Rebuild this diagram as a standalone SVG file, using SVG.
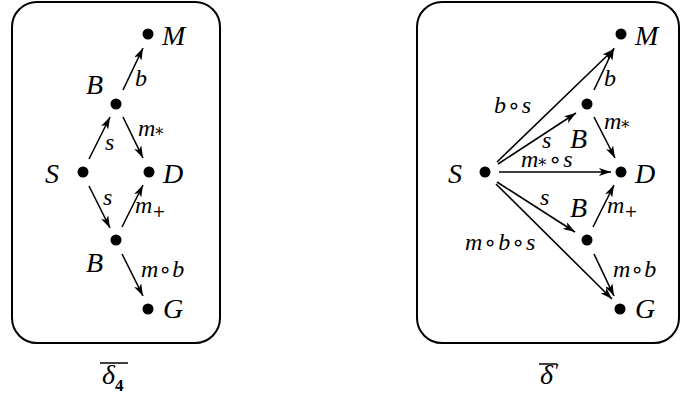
<svg xmlns="http://www.w3.org/2000/svg" width="681" height="398" viewBox="0 0 681 398">
<style>
.box{fill:none;stroke:#000;stroke-width:2}
.e{stroke:#000;stroke-width:1.6;fill:none;marker-end:url(#ah)}
.n{font-family:"Liberation Serif",serif;font-style:italic;font-size:28px;fill:#000}
.l{font-family:"Liberation Serif",serif;font-style:italic;font-size:24px;fill:#000}
.sub{font-size:16px;font-style:normal;font-family:"DejaVu Serif",serif}
.o{font-family:"DejaVu Sans",sans-serif;font-style:normal;font-size:22px}
.cap{font-family:"Liberation Serif",serif;font-style:italic;font-size:28px;fill:#000}
</style>
<defs>
<marker id="ah" markerUnits="userSpaceOnUse" markerWidth="13" markerHeight="8" refX="12" refY="4" orient="auto">
<path d="M0,0 L12,4 L0,8 L3,4 z" fill="#000"/>
</marker>
</defs>
<rect class="box" x="12" y="2" width="208" height="341" rx="25"/>
<rect class="box" x="417" y="2" width="262" height="341" rx="25"/>
<g id="connectors">
<line class="e" x1="123" y1="90" x2="143" y2="48"/>
<line class="e" x1="89" y1="159" x2="110" y2="117"/>
<line class="e" x1="123" y1="117" x2="143" y2="158"/>
<line class="e" x1="89" y1="186" x2="110" y2="228"/>
<line class="e" x1="122" y1="227" x2="143" y2="185"/>
<line class="e" x1="122" y1="254" x2="143" y2="296"/>
<line class="e" x1="497" y1="162" x2="614" y2="49"/>
<line class="e" x1="498" y1="164" x2="576" y2="113"/>
<line class="e" x1="594" y1="90" x2="614" y2="48"/>
<line class="e" x1="594" y1="117" x2="615" y2="158"/>
<line class="e" x1="499" y1="172" x2="611" y2="172"/>
<line class="e" x1="497" y1="182" x2="575" y2="232"/>
<line class="e" x1="496" y1="184" x2="612" y2="299"/>
<line class="e" x1="593" y1="227" x2="614" y2="185"/>
<line class="e" x1="594" y1="254" x2="614" y2="296"/>
</g>
<g id="l-M"><circle cx="148" cy="34" r="5.5"/><text class="n" x="162" y="45">M</text></g>
<g id="l-Btop"><circle cx="116" cy="104" r="5.5"/><text class="n" x="86" y="94">B</text></g>
<g id="l-S"><circle cx="83" cy="172" r="5.5"/><text class="n" x="45" y="183">S</text></g>
<g id="l-D"><circle cx="149" cy="172" r="5.5"/><text class="n" x="163" y="183">D</text></g>
<g id="l-Bbot"><circle cx="116" cy="240" r="5.5"/><text class="n" x="86" y="272">B</text></g>
<g id="l-G"><circle cx="148" cy="309" r="5.5"/><text class="n" x="163" y="318">G</text></g>
<g id="l-labels">
<text class="l" x="135" y="86">b</text>
<text class="l" x="138" y="136">m<tspan class="sub" dy="4">*</tspan></text>
<text class="l" x="105" y="150">s</text>
<text class="l" x="103" y="205">s</text>
<text class="l" x="135" y="213">m<tspan class="sub" dy="4">+</tspan></text>
<text class="l" x="141" y="277">m<tspan class="o">∘</tspan>b</text>
</g>
<g id="r-M"><circle cx="621" cy="34" r="5.5"/><text class="n" x="635" y="45">M</text></g>
<g id="r-Btop"><circle cx="587" cy="104" r="5.5"/><text class="n" x="570" y="148">B</text></g>
<g id="r-S"><circle cx="485" cy="172" r="5.5"/><text class="n" x="448" y="183">S</text></g>
<g id="r-D"><circle cx="621" cy="172" r="5.5"/><text class="n" x="635" y="183">D</text></g>
<g id="r-Bbot"><circle cx="587" cy="240" r="5.5"/><text class="n" x="570" y="217">B</text></g>
<g id="r-G"><circle cx="620" cy="309" r="5.5"/><text class="n" x="635" y="318">G</text></g>
<g id="r-labels">
<text class="l" x="604" y="86">b</text>
<text class="l" x="494" y="113">b<tspan class="o" dx="1">∘</tspan><tspan dx="1">s</tspan></text>
<text class="l" x="542" y="148">s</text>
<text class="l" x="604" y="129">m<tspan class="sub" dy="4">*</tspan></text>
<text class="l" x="521" y="167">m<tspan class="sub" dy="4">*</tspan><tspan class="o" dx="2" dy="-4">∘</tspan><tspan dx="1">s</tspan></text>
<text class="l" x="540" y="205">s</text>
<text class="l" x="607" y="213">m<tspan class="sub" dy="4">+</tspan></text>
<text class="l" x="465" y="250">m<tspan class="o" dx="1">∘</tspan><tspan dx="1">b</tspan><tspan class="o" dx="1">∘</tspan><tspan dx="1">s</tspan></text>
<text class="l" x="613" y="277">m<tspan class="o">∘</tspan>b</text>
</g>
<g id="captions">
<line x1="100" y1="363" x2="128" y2="363" stroke="#000" stroke-width="1.5"/>
<text class="cap" x="102" y="384">δ<tspan font-style="normal" font-size="17" font-weight="bold" dy="7">4</tspan></text>
<line x1="539" y1="364" x2="557" y2="364" stroke="#000" stroke-width="1.5"/>
<text class="cap" x="540" y="384">δ<tspan font-style="normal" font-size="20" dx="2" dy="-6">′</tspan></text>
</g>
</svg>
